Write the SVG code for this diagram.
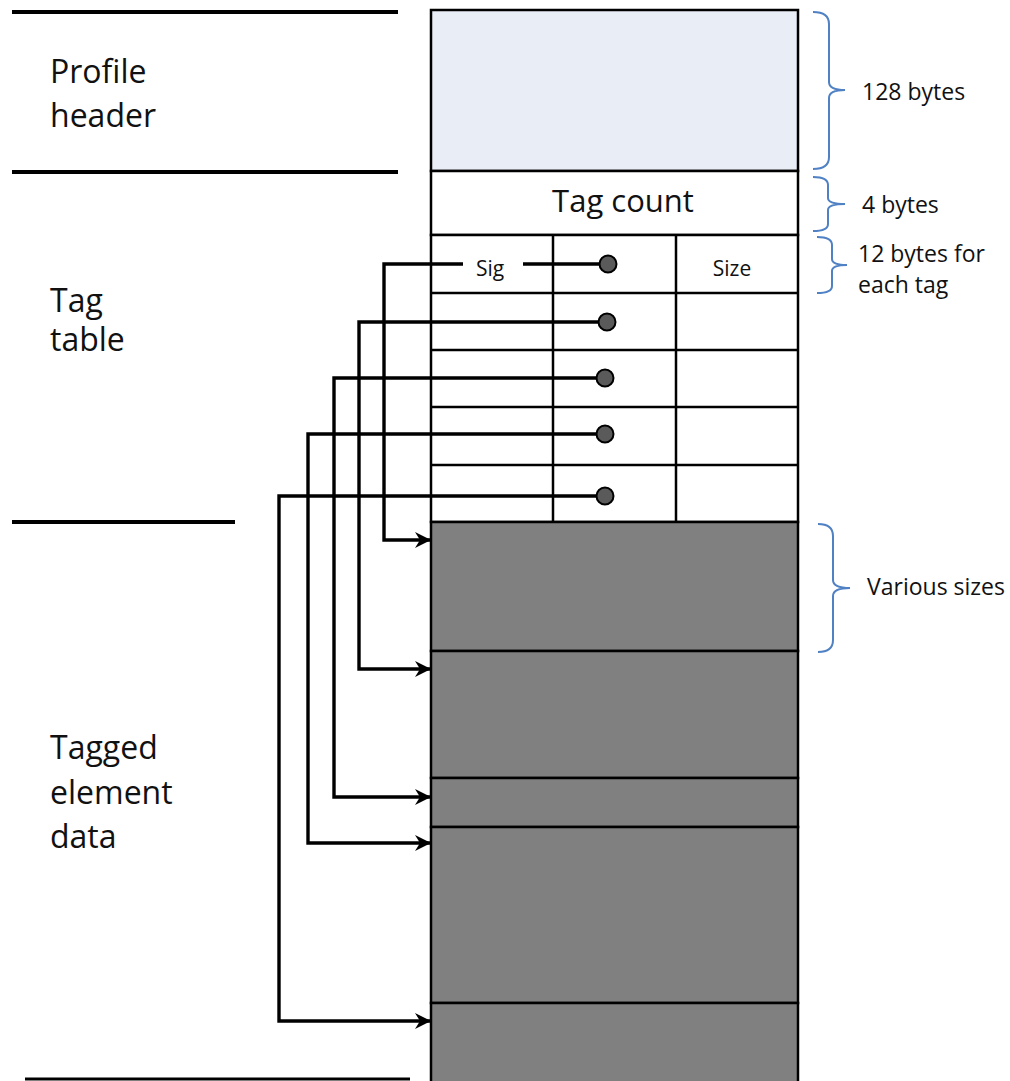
<svg xmlns="http://www.w3.org/2000/svg" width="1010" height="1081" viewBox="0 0 1010 1081">
<defs>
<style>
text{font-family:"Open Sans","Liberation Sans",sans-serif;fill:#111}
.lbl{font-size:32px}
.small{font-size:21px}
.note{font-size:23px}
.cell{stroke:#000;stroke-width:2.5;fill:#fff}
.gray{stroke:#000;stroke-width:2.5;fill:#808080}
.sep{stroke:#000;stroke-width:4;fill:none}
.brace{stroke:#4f81c4;stroke-width:2;fill:none}
.conn{stroke:#000;stroke-width:3.4;fill:none;marker-end:url(#arr)}
.dot{fill:#5a5a5a;stroke:#000;stroke-width:2}
</style>
<marker id="arr" markerUnits="userSpaceOnUse" markerWidth="18" markerHeight="16" refX="16" refY="8" orient="auto">
<path d="M0,0 L16,8 L0,16 L5,8 Z" fill="#000"/>
</marker>
</defs>

<g id="left-separators">
<line class="sep" x1="12" y1="12" x2="398" y2="12"/>
<line class="sep" x1="12" y1="172" x2="398" y2="172"/>
<line class="sep" x1="12" y1="522" x2="235" y2="522"/>
<line class="sep" x1="25" y1="1079" x2="410" y2="1079" style="stroke-width:3"/>
</g>

<g id="section-labels">
<text class="lbl" x="50" y="83">Profile</text>
<text class="lbl" x="50" y="127">header</text>
<text class="lbl" x="50" y="312">Tag</text>
<text class="lbl" x="50" y="351">table</text>
<text class="lbl" x="50" y="759">Tagged</text>
<text class="lbl" x="50" y="804">element</text>
<text class="lbl" x="50" y="848">data</text>
</g>

<g id="profile-header">
<rect x="431" y="10" width="367" height="161" fill="#e9edf6" stroke="#000" stroke-width="2.5"/>
</g>

<g id="tag-count">
<rect class="cell" x="431" y="171" width="367" height="64"/>
<text x="623" y="212" font-size="31" text-anchor="middle">Tag count</text>
</g>

<g id="tag-table">
<rect class="cell" x="431" y="235" width="367" height="287"/>
<line class="cell" x1="431" y1="293" x2="798" y2="293"/>
<line class="cell" x1="431" y1="350" x2="798" y2="350"/>
<line class="cell" x1="431" y1="407" x2="798" y2="407"/>
<line class="cell" x1="431" y1="465" x2="798" y2="465"/>
<line class="cell" x1="553" y1="235" x2="553" y2="522"/>
<line class="cell" x1="676" y1="235" x2="676" y2="522"/>
<text class="small" x="490" y="276" text-anchor="middle">Sig</text>
<text class="small" x="732" y="276" text-anchor="middle">Size</text>
</g>

<g id="data-1"><rect class="gray" x="431" y="522" width="367" height="129"/></g>
<g id="data-2"><rect class="gray" x="431" y="651" width="367" height="127"/></g>
<g id="data-3"><rect class="gray" x="431" y="778" width="367" height="49"/></g>
<g id="data-4"><rect class="gray" x="431" y="827" width="367" height="176"/></g>
<g id="data-5"><rect class="gray" x="431" y="1003" width="367" height="80"/></g>

<g id="connectors">
<path class="conn" d="M607 264 H523 M463 264 H384 V540 H431"/>
<path class="conn" d="M607 322 H359 V669 H431"/>
<path class="conn" d="M605 378 H334 V797 H431"/>
<path class="conn" d="M605 434 H308 V843 H431"/>
<path class="conn" d="M605 496 H279 V1021 H431"/>
<circle class="dot" cx="608" cy="264" r="8.5"/>
<circle class="dot" cx="607" cy="322" r="8.5"/>
<circle class="dot" cx="605" cy="378" r="8.5"/>
<circle class="dot" cx="605" cy="434" r="8.5"/>
<circle class="dot" cx="605" cy="496" r="8.5"/>
</g>

<g id="brace-header">
<path class="brace" d="M813 12 Q829 12 829 24 L829 82 Q829 90 845 90 Q829 90 829 98 L829 157 Q829 169 813 169"/>
<text class="note" x="862" y="100">128 bytes</text>
</g>
<g id="brace-count">
<path class="brace" d="M813 177 Q828 177 828 185 L828 198 Q828 204 845 204 Q828 204 828 210 L828 224 Q828 231 813 231"/>
<text class="note" x="862" y="213">4 bytes</text>
</g>
<g id="brace-tag">
<path class="brace" d="M817 237 Q832 237 832 245 L832 259 Q832 265 847 265 Q832 265 832 271 L832 286 Q832 293 817 293"/>
<text class="note" x="858" y="262">12 bytes for</text>
<text class="note" x="858" y="293">each tag</text>
</g>
<g id="brace-data">
<path class="brace" d="M818 524 Q833 524 833 536 L833 580 Q833 588 850 588 Q833 588 833 596 L833 640 Q833 652 818 652"/>
<text class="note" x="867" y="595">Various sizes</text>
</g>
</svg>
